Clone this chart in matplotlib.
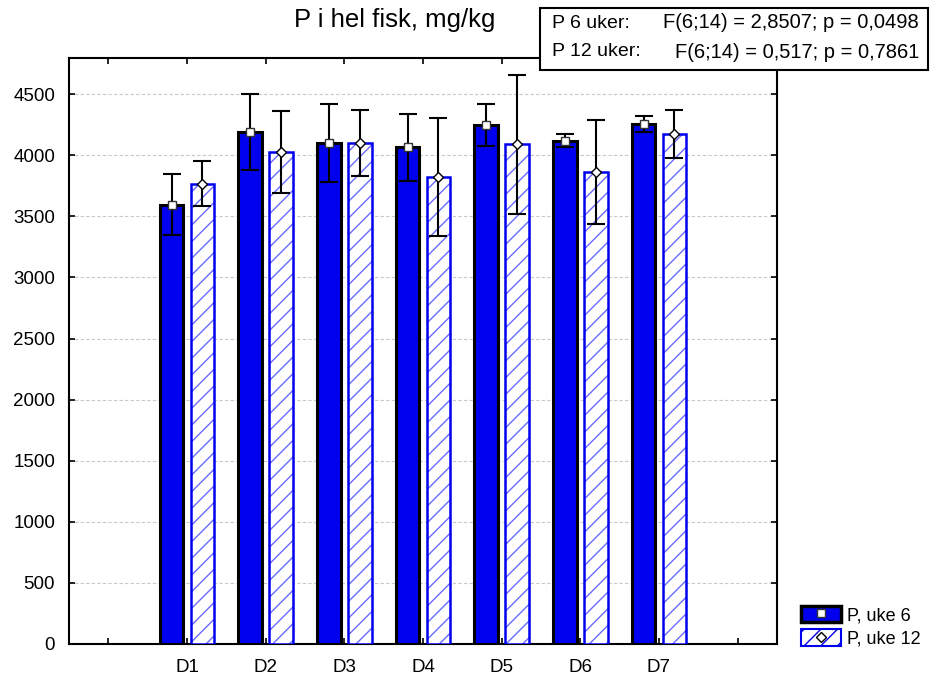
import numpy as np
import matplotlib.pyplot as plt
from matplotlib.patches import Rectangle
from matplotlib.lines import Line2D

plt.rcParams['font.family'] = ['Liberation Sans', 'DejaVu Sans']
plt.rcParams['hatch.linewidth'] = 1.0

# --- Dados ---
kategorier = ['D1', 'D2', 'D3', 'D4', 'D5', 'D6', 'D7']
uke6_mean = [3596, 4190, 4103, 4065, 4244, 4120, 4255]
uke6_err = [252, 312, 320, 274, 172, 52, 68]
uke12_mean = [3768, 4028, 4097, 3820, 4088, 3862, 4171]
uke12_err = [183, 337, 270, 481, 567, 423, 197]
yticks = [0, 500, 1000, 1500, 2000, 2500, 3000, 3500, 4000, 4500]

tittel = 'P i hel fisk, mg/kg'
stat_labels = ['P 6 uker:', 'P 12 uker:']
stat_texts = ['F(6;14) = 2,8507; p = 0,0498', 'F(6;14) = 0,517; p = 0,7861']
legend_labels = ['P, uke 6', 'P, uke 12']

BLUE = '#0000ee'
HATCH_BLUE = '#6a6aff'

fig = plt.figure(figsize=(9.31, 6.79), dpi=100)
ax = fig.add_axes([69 / 931, 1 - 644 / 679, (777 - 69) / 931, (644 - 57.5) / 679])

x = np.arange(1, len(kategorier) + 1)
w = 0.30
off = 0.197

# Uke 6: fylte soyler med svart kant
ax.bar(x - off, uke6_mean, width=w, color=BLUE, edgecolor='black', linewidth=2.2, zorder=3)
# Uke 12: skraverte soyler
ax.bar(x + off, uke12_mean, width=w, color='white', edgecolor=HATCH_BLUE, hatch='//',
       linewidth=0, zorder=3)
ax.bar(x + off, uke12_mean, width=w, fill=False, edgecolor=BLUE, linewidth=1.8, zorder=4)

# Feilstolper
ax.errorbar(x - off, uke6_mean, yerr=uke6_err, fmt='none', ecolor='black',
            elinewidth=1.5, capsize=6.5, capthick=1.5, zorder=5)
ax.errorbar(x + off, uke12_mean, yerr=uke12_err, fmt='none', ecolor='black',
            elinewidth=1.5, capsize=6.5, capthick=1.5, zorder=5)
ax.plot(x - off, uke6_mean, 's', ms=6, mfc='white', mec='#333333', mew=1, zorder=6)
ax.plot(x + off, uke12_mean, 'D', ms=5, mfc='white', mec='black', mew=1, zorder=6)

ax.set_xlim(-0.5, 8.5)
ax.set_ylim(0, 4800)
ax.set_xticks(np.arange(0, 9))
ax.set_xticklabels([''] + kategorier + [''])
ax.set_yticks(yticks)
ax.tick_params(direction='in', length=4, width=1.2, labelsize=13.5, top=True, right=True)
ax.tick_params(axis='x', pad=11)
ax.tick_params(axis='y', pad=10)
ax.yaxis.grid(True, linestyle=(0, (3, 2)), color='#c8c8c8', linewidth=0.8)
ax.set_axisbelow(True)
for s in ax.spines.values():
    s.set_linewidth(1.5)

fig.text(395 / 931, 1 - 20 / 679, tittel, ha='center', va='center', fontsize=18.5)

# Statistikkboks
fig.patches.append(Rectangle((540 / 931, 1 - 70 / 679), (928 - 540) / 931, 62 / 679,
                             transform=fig.transFigure, facecolor='white',
                             edgecolor='black', linewidth=1.5, zorder=10))
ys = [23, 52]
for lab, txt, yy in zip(stat_labels, stat_texts, ys):
    fig.text(552 / 931, 1 - yy / 679, lab, ha='left', va='center', fontsize=14, zorder=11)
    fig.text(919 / 931, 1 - yy / 679, txt, ha='right', va='center', fontsize=14.5, zorder=11)

# Legende
h1 = (Rectangle((0, 0), 1, 1, facecolor=BLUE, edgecolor='black', linewidth=2.5),
      Line2D([], [], marker='s', ls='none', ms=6, mfc='white', mec='#333333'))
h2 = (Rectangle((0, 0), 1, 1, facecolor='white', edgecolor=BLUE, hatch='//', linewidth=1.5),
      Line2D([], [], marker='D', ls='none', ms=5, mfc='white', mec='black'))
fig.legend([h1, h2], legend_labels, loc='lower left',
           bbox_to_anchor=(785 / 931, 1 - 664 / 679), frameon=False, fontsize=13,
           handlelength=2.2, handleheight=1.0, handletextpad=0.35, labelspacing=0.3)

fig.savefig('out.png', dpi=100)
